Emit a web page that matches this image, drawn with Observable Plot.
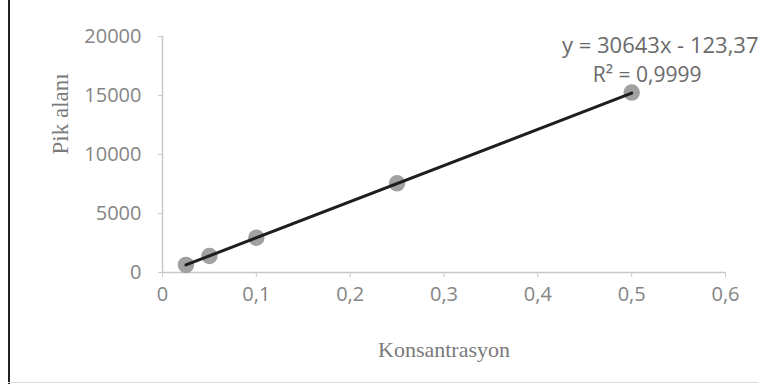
<!DOCTYPE html>
<html>
<head>
<meta charset="utf-8">
<script src="https://cdn.jsdelivr.net/npm/d3@7"></script>
<script src="https://cdn.jsdelivr.net/npm/@observablehq/plot@0.6"></script>
<style>
  html, body { margin: 0; padding: 0; background: #fff; }
  #wrap { position: relative; width: 758px; height: 384px; overflow: hidden; }
  #wrap .edge-left { position: absolute; left: 8px; top: 0; width: 2px; height: 384px; background: #222; }
  #wrap .edge-bottom { position: absolute; left: 8px; bottom: 1px; width: 750px; height: 1px; background: #ddd; }
  svg { display: block; }
</style>
</head>
<body>
<div id="wrap"><div class="edge-left"></div><div class="edge-bottom"></div></div>
<script>
// Calibration points: concentration vs. peak area
const konsantrasyon = [0.025, 0.05, 0.1, 0.25, 0.5];
const pikAlani = [640, 1400, 2950, 7560, 15250];

// Linear trendline reported on the chart
const slope = 30643;
const intercept = -123.37;
const r2 = 0.9999;

const xTicks = [0, 0.1, 0.2, 0.3, 0.4, 0.5, 0.6];
const yTicks = [0, 5000, 10000, 15000, 20000];

const points = konsantrasyon.map((x, i) => ({x, y: pikAlani[i]}));
const trend = [d3.min(konsantrasyon), d3.max(konsantrasyon)].map(x => ({x, y: slope * x + intercept}));

const comma = v => String(v).replace(".", ",");
const eqText = `y = ${slope}x - ${comma(Math.abs(intercept))}`;
const r2Text = `R² = ${comma(r2)}`;

const tickColor = "#858585";
const sans = "'Open Sans', 'Liberation Sans', sans-serif";
const serif = "'Liberation Serif', 'DejaVu Serif', serif";

const chart = Plot.plot({
  width: 758,
  height: 384,
  marginLeft: 162,
  marginRight: 33,
  marginTop: 36,
  marginBottom: 112,
  style: {fontFamily: sans, background: "transparent"},
  x: {domain: [0, 0.6], axis: null},
  y: {domain: [0, 20000], axis: null},
  marks: [
    // axis lines
    Plot.ruleY([0], {stroke: "#c8c8c8", strokeWidth: 1.5}),
    Plot.ruleX([0], {stroke: "#c8c8c8", strokeWidth: 1.5}),
    Plot.axisX(xTicks, {
      tickSize: 5, tickPadding: 9, stroke: "#c8c8c8", fill: tickColor,
      fontSize: 20, tickFormat: comma,
      label: "Konsantrasyon", labelAnchor: "center", labelArrow: "none", labelOffset: 84
    }),
    Plot.axisY(yTicks, {
      tickSize: 4, tickPadding: 17, stroke: "#c8c8c8", fill: tickColor,
      fontSize: 20, tickFormat: d => String(d),
      label: null
    }),
    Plot.text(["Pik alanı"], {
      frameAnchor: "left", dx: -102, rotate: -90, fontFamily: serif, fontSize: 23, fill: "#7a7a7a"
    }),
    // data points
    Plot.dot(points, {x: "x", y: "y", r: 7.5, fill: "#8a8a8a", fillOpacity: 0.8, stroke: "#a0a0a0", strokeWidth: 1.5}),
    // trendline
    Plot.line(trend, {x: "x", y: "y", stroke: "#1e1e1e", strokeWidth: 3}),
    // equation labels
    Plot.text([eqText], {frameAnchor: "top-right", dx: 33, dy: 1, textAnchor: "end", fontSize: 22, fill: "#6a6a6a"}),
    Plot.text([r2Text], {frameAnchor: "top-right", dx: -24, dy: 31, textAnchor: "end", fontSize: 21, fill: "#6a6a6a"})
  ]
});

// the x axis title uses the serif face
chart.querySelectorAll("[aria-label='x-axis label'] text").forEach(t => {
  t.setAttribute("font-family", serif);
  t.setAttribute("font-size", 22);
  t.setAttribute("fill", "#7a7a7a");
});

document.getElementById("wrap").prepend(chart);
</script>
</body>
</html>
